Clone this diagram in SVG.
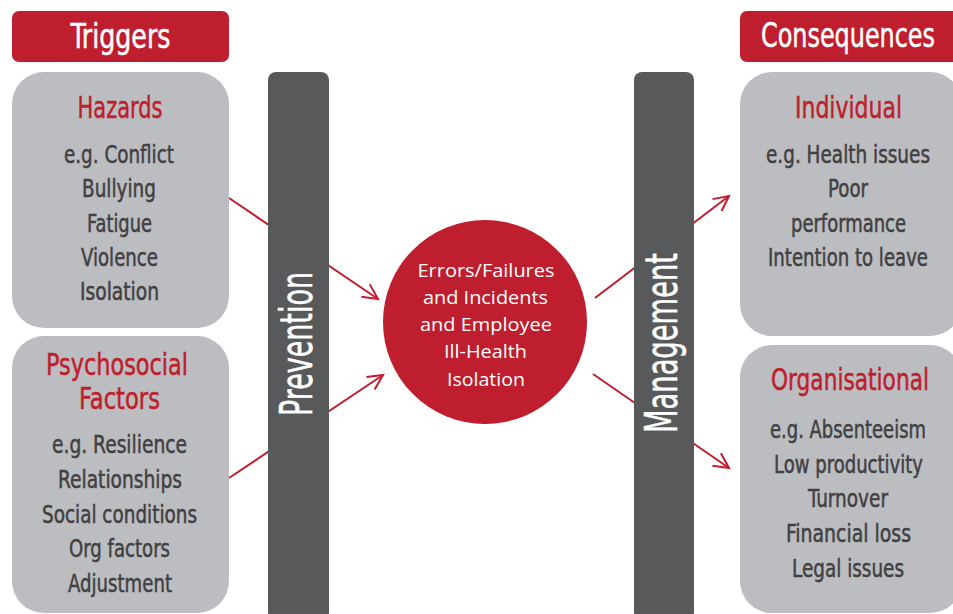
<svg xmlns="http://www.w3.org/2000/svg" width="953" height="614" viewBox="0 0 953 614">
  <defs>
    <style>
      .banner { fill: #be1e2d; }
      .box { fill: #bcbdc0; }
      .bar { fill: #58595b; }
      .hub { fill: #be1e2d; }
      .cond { font-family: "DejaVu Sans Condensed", "DejaVu Sans", sans-serif; text-anchor: middle; stroke-width: 0.5px; }
      .title { font-size: 34px; fill: #ffffff; stroke: #ffffff; }
      .head { font-size: 31px; fill: #be1e2d; stroke: #be1e2d; }
      .item { font-size: 25px; fill: #414042; stroke: #414042; }
      .barlabel { font-size: 44px; fill: #ffffff; stroke: #ffffff; }
      .hubtext { font-family: "Open Sans", "Liberation Sans", sans-serif; font-size: 19px; fill: #ffffff; text-anchor: middle; }
      .link { stroke: #be1e2d; stroke-width: 2; fill: none; }
    </style>
    <marker id="open-arrow" markerUnits="userSpaceOnUse" markerWidth="20" markerHeight="20" refX="0" refY="0" viewBox="-16 -10 20 20" orient="auto" overflow="visible">
      <path d="M-15,-7.5 L0,0 L-15,7.5" stroke="#be1e2d" stroke-width="2" fill="none"/>
    </marker>
  </defs>

  <rect width="953" height="614" fill="#ffffff"/>

  <!-- connectors: drawn first so the vertical bars pass over them -->
  <g id="connectors">
    <line class="link" x1="229" y1="198" x2="378" y2="299" marker-end="url(#open-arrow)"/>
    <line class="link" x1="229" y1="478" x2="383" y2="375" marker-end="url(#open-arrow)"/>
    <line class="link" x1="595" y1="298" x2="729" y2="196" marker-end="url(#open-arrow)"/>
    <line class="link" x1="593" y1="374" x2="729" y2="468" marker-end="url(#open-arrow)"/>
  </g>

  <!-- left column -->
  <g id="triggers">
    <rect class="banner" x="12" y="11" width="217" height="51" rx="7"/>
    <text class="cond title" x="120.5" y="48" textLength="100" lengthAdjust="spacingAndGlyphs">Triggers</text>
  </g>

  <g id="hazards">
    <rect class="box" x="12" y="72" width="217" height="256" rx="32"/>
    <text class="cond head" x="120" y="118" textLength="85" lengthAdjust="spacingAndGlyphs">Hazards</text>
    <text class="cond item" x="119" y="163" textLength="110" lengthAdjust="spacingAndGlyphs">e.g. Conflict</text>
    <text class="cond item" x="119" y="197" textLength="74" lengthAdjust="spacingAndGlyphs">Bullying</text>
    <text class="cond item" x="119.5" y="232" textLength="65" lengthAdjust="spacingAndGlyphs">Fatigue</text>
    <text class="cond item" x="119.5" y="266" textLength="77" lengthAdjust="spacingAndGlyphs">Violence</text>
    <text class="cond item" x="119.5" y="300" textLength="79" lengthAdjust="spacingAndGlyphs">Isolation</text>
  </g>

  <g id="psychosocial">
    <rect class="box" x="12" y="336" width="217" height="277" rx="32"/>
    <text class="cond head" x="117" y="375" textLength="142" lengthAdjust="spacingAndGlyphs">Psychosocial</text>
    <text class="cond head" x="119.5" y="409" textLength="81" lengthAdjust="spacingAndGlyphs">Factors</text>
    <text class="cond item" x="119.5" y="453" textLength="135" lengthAdjust="spacingAndGlyphs">e.g. Resilience</text>
    <text class="cond item" x="120" y="488" textLength="124" lengthAdjust="spacingAndGlyphs">Relationships</text>
    <text class="cond item" x="119.5" y="523" textLength="155" lengthAdjust="spacingAndGlyphs">Social conditions</text>
    <text class="cond item" x="119.5" y="557" textLength="101" lengthAdjust="spacingAndGlyphs">Org factors</text>
    <text class="cond item" x="120" y="592" textLength="104" lengthAdjust="spacingAndGlyphs">Adjustment</text>
  </g>

  <!-- vertical bars -->
  <g id="prevention">
    <rect class="bar" x="268" y="72" width="61" height="548" rx="8"/>
    <text class="cond barlabel" transform="translate(312,344) rotate(-90)" x="0" y="0" textLength="144" lengthAdjust="spacingAndGlyphs">Prevention</text>
  </g>

  <g id="management">
    <rect class="bar" x="634" y="72" width="60" height="548" rx="8"/>
    <text class="cond barlabel" transform="translate(677,343) rotate(-90)" x="0" y="0" textLength="180" lengthAdjust="spacingAndGlyphs">Management</text>
  </g>

  <!-- central outcome -->
  <g id="outcome">
    <circle class="hub" cx="485" cy="322" r="102"/>
    <text class="hubtext" x="486" y="277" textLength="137" lengthAdjust="spacingAndGlyphs">Errors/Failures</text>
    <text class="hubtext" x="485.5" y="304" textLength="125" lengthAdjust="spacingAndGlyphs">and Incidents</text>
    <text class="hubtext" x="486" y="331" textLength="132" lengthAdjust="spacingAndGlyphs">and Employee</text>
    <text class="hubtext" x="485.5" y="358" textLength="83" lengthAdjust="spacingAndGlyphs">Ill-Health</text>
    <text class="hubtext" x="486" y="386" textLength="78" lengthAdjust="spacingAndGlyphs">Isolation</text>
  </g>

  <!-- right column -->
  <g id="consequences">
    <rect class="banner" x="740" y="11" width="222" height="51" rx="7"/>
    <text class="cond title" x="848" y="47" textLength="174" lengthAdjust="spacingAndGlyphs">Consequences</text>
  </g>

  <g id="individual">
    <rect class="box" x="740" y="72" width="222" height="264" rx="32"/>
    <text class="cond head" x="848.5" y="118" textLength="107" lengthAdjust="spacingAndGlyphs">Individual</text>
    <text class="cond item" x="848" y="163" textLength="164" lengthAdjust="spacingAndGlyphs">e.g. Health issues</text>
    <text class="cond item" x="848" y="197" textLength="40" lengthAdjust="spacingAndGlyphs">Poor</text>
    <text class="cond item" x="848.5" y="232" textLength="115" lengthAdjust="spacingAndGlyphs">performance</text>
    <text class="cond item" x="848" y="266" textLength="160" lengthAdjust="spacingAndGlyphs">Intention to leave</text>
  </g>

  <g id="organisational">
    <rect class="box" x="740" y="345" width="222" height="268" rx="32"/>
    <text class="cond head" x="850" y="390" textLength="158" lengthAdjust="spacingAndGlyphs">Organisational</text>
    <text class="cond item" x="848" y="438" textLength="156" lengthAdjust="spacingAndGlyphs">e.g. Absenteeism</text>
    <text class="cond item" x="848.5" y="473" textLength="149" lengthAdjust="spacingAndGlyphs">Low productivity</text>
    <text class="cond item" x="848" y="507" textLength="80" lengthAdjust="spacingAndGlyphs">Turnover</text>
    <text class="cond item" x="848.5" y="542" textLength="125" lengthAdjust="spacingAndGlyphs">Financial loss</text>
    <text class="cond item" x="848" y="577" textLength="112" lengthAdjust="spacingAndGlyphs">Legal issues</text>
  </g>
</svg>
